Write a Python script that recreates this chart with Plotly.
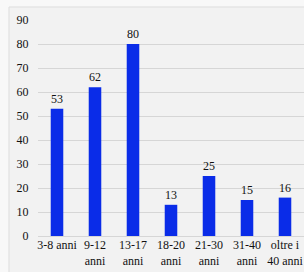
import plotly.graph_objects as go

categories = ["3-8 anni", "9-12<br>anni", "13-17<br>anni", "18-20<br>anni",
              "21-30<br>anni", "31-40<br>anni", "oltre i<br>40 anni"]
values = [53, 62, 80, 13, 25, 15, 16]
y_ticks = [0, 10, 20, 30, 40, 50, 60, 70, 80, 90]

W, H = 304, 272
font_family = "'Liberation Serif', 'Times New Roman', serif"

fig = go.Figure(go.Bar(
    x=categories, y=values,
    marker=dict(color="#0a2ce8", line=dict(width=0)),
    text=[str(v) for v in values], textposition="outside",
    textfont=dict(family=font_family, size=12, color="#111111"),
    cliponaxis=False,
))

fig.update_layout(
    width=W, height=H,
    margin=dict(l=38, r=0, t=20, b=36),
    paper_bgcolor="#f8f8f8",
    plot_bgcolor="rgba(0,0,0,0)",
    bargap=0.67,
    showlegend=False,
    font=dict(family=font_family, size=12, color="#111111"),
    shapes=[dict(type="rect", xref="paper", yref="paper",
                 x0=-29/266, x1=1.05, y0=-0.3, y1=1 + 13/216,
                 fillcolor="#f2f2f2", line=dict(color="#dddddd", width=1),
                 layer="below")],
)
fig.update_xaxes(showgrid=False, showline=False, ticks="", automargin=False,
                 tickfont=dict(family=font_family, size=12), tickangle=0)
fig.update_yaxes(range=[0, 90], tickvals=y_ticks, showgrid=True, automargin=False,
                 gridcolor="#d6d6d6", gridwidth=1, zeroline=True,
                 zerolinecolor="#d6d6d6", zerolinewidth=1,
                 ticks="outside", ticklen=6, tickcolor="rgba(0,0,0,0)",
                 tickfont=dict(family=font_family, size=12))

fig.write_html("out.html", config={"displayModeBar": False},
               post_script="document.body.style.margin='0';document.body.style.padding='0';document.body.style.overflow='hidden';")
